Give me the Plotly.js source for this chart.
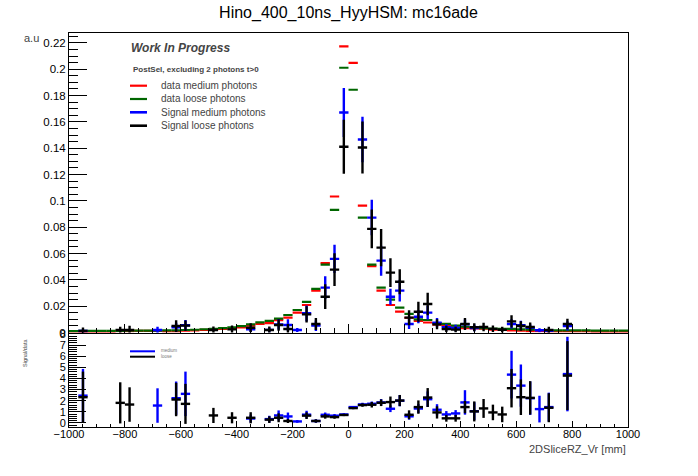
<!DOCTYPE html>
<html>
<head>
<meta charset="utf-8">
<script src="https://cdn.plot.ly/plotly-3.0.1.min.js"></script>
<style>
  html, body { margin: 0; padding: 0; background: #fff; }
  #plotDiv { width: 698px; height: 476px; }
</style>
</head>
<body>
<div id="plotDiv"></div>
<script>
// 60 bins from -1000 to 1000 mm (bin centres)
const binCenters = [
  -983.3, -950.0, -916.7, -883.3, -850.0, -816.7, -783.3, -750.0, -716.7, -683.3,
  -650.0, -616.7, -583.3, -550.0, -516.7, -483.3, -450.0, -416.7, -383.3, -350.0,
  -316.7, -283.3, -250.0, -216.7, -183.3, -150.0, -116.7, -83.3, -50.0, -16.7,
  16.7, 50.0, 83.3, 116.7, 150.0, 183.3, 216.7, 250.0, 283.3, 316.7,
  350.0, 383.3, 416.7, 450.0, 483.3, 516.7, 550.0, 583.3, 616.7, 650.0,
  683.3, 716.7, 750.0, 783.3, 816.7, 850.0, 883.3, 916.7, 950.0, 983.3,
];
const halfBin = 16.667;

// data medium photons (red)
const dataMedium = [
  0.0006, 0.0005, 0.0005, 0.0005, 0.0005, 0.0010, 0.0011, 0.0012, 0.0013, 0.0013,
  0.0008, 0.0008, 0.0015, 0.0016, 0.0020, 0.0023, 0.0027, 0.0031, 0.0039, 0.0052,
  0.0066, 0.0072, 0.0094, 0.0113, 0.0151, 0.0209, 0.0318, 0.0528, 0.1033, 0.2173,
  0.2048, 0.0964, 0.0505, 0.0318, 0.0209, 0.0158, 0.0112, 0.0088, 0.0076, 0.0060,
  0.0052, 0.0039, 0.0034, 0.0032, 0.0029, 0.0022, 0.0019, 0.0016, 0.0014, 0.0011,
  0.0011, 0.0009, 0.0009, 0.0009, 0.0009, 0.0008, 0.0004, 0.0004, 0.0004, 0.0004,
];
// data loose photons (green)
const dataLoose = [
  0.0010, 0.0012, 0.0013, 0.0013, 0.0013, 0.0013, 0.0014, 0.0014, 0.0014, 0.0015,
  0.0016, 0.0017, 0.0019, 0.0021, 0.0025, 0.0028, 0.0034, 0.0039, 0.0048, 0.0062,
  0.0077, 0.0089, 0.0106, 0.0133, 0.0171, 0.0232, 0.0331, 0.0516, 0.0932, 0.2011,
  0.1844, 0.0873, 0.0515, 0.0341, 0.0250, 0.0189, 0.0141, 0.0100, 0.0095, 0.0072,
  0.0065, 0.0052, 0.0044, 0.0039, 0.0034, 0.0029, 0.0027, 0.0027, 0.0024, 0.0022,
  0.0019, 0.0016, 0.0016, 0.0016, 0.0016, 0.0016, 0.0014, 0.0014, 0.0014, 0.0014,
];

// Signal medium photons (blue)
const sigMedium = [
  null, 0.0012, null, null, null, null, null, null, null, 0.0019,
  null, 0.0040, 0.0055, null, null, null, null, null, null, 0.0024,
  null, 0.0020, 0.0062, 0.0057, 0.0019, 0.0146, 0.0052, 0.0341, 0.0559, 0.1671,
  0.285, 0.1466, 0.0873, 0.0546, 0.0272, 0.0318, 0.0065, 0.0120, 0.0151, 0.0075,
  0.0040, 0.0034, 0.0063, 0.0034, null, null, null, 0.0065, 0.0055, 0.0035,
  0.0017, 0.0013, null, 0.0050, null, null, null, null, null, null,
];
const sigMediumErr = [
  null, 0.0012, null, null, null, null, null, null, null, 0.0025,
  null, 0.0035, 0.0040, null, null, null, null, null, null, 0.0020,
  null, 0.0018, 0.0040, 0.0044, 0.0015, 0.0060, 0.0040, 0.0086, 0.0107, 0.0186,
  0.020, 0.0173, 0.0135, 0.0114, 0.0061, 0.0082, 0.0038, 0.0050, 0.0053, 0.0035,
  0.0025, 0.0025, 0.0035, 0.0025, null, null, null, 0.0035, 0.0035, 0.0025,
  0.0015, 0.0012, null, 0.0035, null, null, null, null, null, null,
];

// Signal loose photons (black)
const sigLoose = [
  null, 0.0011, null, null, null, 0.0019, 0.0019, null, null, null,
  null, 0.0049, 0.0052, null, null, 0.0019, null, 0.0024, null, 0.0036,
  null, 0.0019, 0.0057, 0.0027, null, 0.0138, 0.0065, 0.0272, 0.0478, 0.1411,
  0.262, 0.1405, 0.0787, 0.0645, 0.0455, 0.0386, 0.0113, 0.0158, 0.0217, 0.0062,
  0.0027, 0.0022, 0.0065, 0.0040, 0.0042, 0.0028, 0.0021, 0.0085, 0.0050, 0.0042,
  null, 0.0019, null, 0.0065, null, null, null, null, null, null,
];
const sigLooseErr = [
  null, 0.0028, null, null, null, 0.0025, 0.0033, null, null, null,
  null, 0.0045, 0.0040, null, null, 0.0027, null, 0.0030, null, 0.0034,
  null, 0.0027, 0.0043, 0.0038, null, 0.0061, 0.0046, 0.0094, 0.0124, 0.0205,
  0.021, 0.0198, 0.0147, 0.0141, 0.0110, 0.0095, 0.0057, 0.0076, 0.0086, 0.0038,
  0.0025, 0.0022, 0.0046, 0.0030, 0.0032, 0.0025, 0.0022, 0.0046, 0.0036, 0.0034,
  null, 0.0024, null, 0.0040, null, null, null, null, null, null,
];

// Signal/data ratios
const ratioMedium = [
  null, 2.46, null, null, null, null, null, null, null, 1.57,
  null, 2.23, 2.62, null, null, null, null, null, null, 0.40,
  null, 0.35, 0.68, 0.59, 0.14, 0.75, 0.18, 0.74, 0.66, 0.77,
  1.43, 1.67, 1.73, 1.85, 1.28, 2.00, 0.60, 1.30, 2.14, 1.19,
  0.77, 0.86, 1.85, 1.06, null, null, null, 4.35, 3.36, 2.23,
  1.25, 1.43, null, 4.40, null, null, null, null, null, null,
];
const ratioMediumErr = [
  null, 2.40, null, null, null, null, null, null, null, 1.55,
  null, 1.50, 2.00, null, null, null, null, null, null, 0.35,
  null, 0.30, 0.45, 0.35, 0.12, 0.35, 0.15, 0.20, 0.15, 0.10,
  0.10, 0.15, 0.20, 0.30, 0.30, 0.50, 0.30, 0.40, 0.70, 0.50,
  0.30, 0.30, 1.10, 0.80, null, null, null, 2.14, 1.90, 1.50,
  1.20, 1.30, null, 3.35, null, null, null, null, null, null,
];
const ratioLoose = [
  null, 2.32, null, null, null, 1.81, 1.66, null, null, null,
  null, 2.11, 1.72, null, null, 0.68, null, 0.47, null, 0.47,
  null, 0.30, 0.47, 0.18, null, 0.66, 0.18, 0.59, 0.53, 0.72,
  1.34, 1.61, 1.64, 1.82, 1.88, 2.02, 0.74, 1.43, 2.29, 0.95,
  0.42, 0.42, 1.43, 1.04, 1.31, 0.95, 0.77, 3.13, 2.32, 2.26,
  null, 1.37, null, 4.26, null, null, null, null, null, null,
];
const ratioLooseErr = [
  null, 2.30, null, null, null, 1.85, 1.55, null, null, null,
  null, 1.50, 1.80, null, null, 0.68, null, 0.50, null, 0.50,
  null, 0.30, 0.40, 0.18, null, 0.30, 0.15, 0.20, 0.15, 0.10,
  0.10, 0.15, 0.25, 0.30, 0.50, 0.50, 0.40, 0.60, 0.85, 0.55,
  0.30, 0.30, 0.55, 0.90, 0.85, 0.70, 0.70, 1.73, 1.60, 1.50,
  null, 1.30, null, 3.10, null, null, null, null, null, null,
];

const legendLabels = [
  "data medium photons",
  "data loose photons",
  "Signal medium photons",
  "Signal loose photons",
];
const colRed = "#ff0000";
const colGreen = "#006600";
const colBlue = "#0000ff";
const colBlack = "#000000";

const FONT = "Liberation Sans, Arial, Helvetica, sans-serif";

// pixel -> paper helpers (plot area is x 69..628, y 33..427)
const L = 69, R = 628, T = 33, B = 427;
function px(x) { return (x - L) / (R - L); }
function py(y) { return (B - y) / (B - T); }

// ROOT style "E" histogram: bin-wide horizontal bar plus vertical error
function histTrace(yv, err, color, xa, ya, thick) {
  let tr = {
    x: binCenters,
    y: yv,
    type: "scatter",
    mode: "markers",
    marker: { size: 0.1, color: color, opacity: 0 },
    xaxis: xa,
    yaxis: ya,
    error_x: { type: "constant", value: halfBin, width: 0, thickness: thick, color: color },
    hoverinfo: "skip",
    showlegend: false,
  };
  if (err) {
    tr.error_y = { type: "data", array: err, width: 0, thickness: thick, color: color };
  }
  return tr;
}

let traces = [
  histTrace(dataMedium, null, colRed, "x2", "y2", 2.2),
  histTrace(dataLoose, null, colGreen, "x2", "y2", 2.2),
  histTrace(sigMedium, sigMediumErr, colBlue, "x2", "y2", 2.4),
  histTrace(sigLoose, sigLooseErr, colBlack, "x2", "y2", 2.4),
  histTrace(ratioMedium, ratioMediumErr, colBlue, "x", "y", 2.4),
  histTrace(ratioLoose, ratioLooseErr, colBlack, "x", "y", 2.4),
];

let tickFont = { family: FONT, size: 11.5, color: "#000" };

let annotations = [
  { text: "a.u", x: px(22), y: py(38), font: { family: FONT, size: 11 } },
  { text: "Signal/data", x: px(20), y: py(353), textangle: -90, font: { family: FONT, size: 5.5 } },
  { text: "2DSliceRZ_Vr [mm]", x: px(628), y: py(449), xanchor: "right", font: { family: FONT, size: 11 } },
  { text: "Work In Progress", x: px(129), y: py(48), xanchor: "left",
    font: { family: FONT, size: 12, weight: "bold", style: "italic" } },
  { text: "PostSel, excluding 2 photons t>0", x: px(131), y: py(69), xanchor: "left",
    font: { family: FONT, size: 8, weight: "bold" } },
  { text: "medium", x: px(159), y: py(350.5), xanchor: "left", font: { family: FONT, size: 4.5, color: "#777" } },
  { text: "loose", x: px(159), y: py(356.3), xanchor: "left", font: { family: FONT, size: 4.5, color: "#777" } },
];
let legendY = [85.7, 99, 112.3, 125.7];
let legendCol = [colRed, colGreen, colBlue, colBlack];
let shapes = [];
for (let i = 0; i < legendLabels.length; i++) {
  annotations.push({
    text: legendLabels[i], x: px(159), y: py(legendY[i]), xanchor: "left",
    font: { family: FONT, size: 10 },
  });
  shapes.push({
    type: "line", xref: "paper", yref: "paper",
    x0: px(130), x1: px(147), y0: py(legendY[i]), y1: py(legendY[i]),
    line: { color: legendCol[i], width: i < 2 ? 2.2 : 2.6 },
  });
}
shapes.push({ type: "line", xref: "paper", yref: "paper",
  x0: px(130), x1: px(155), y0: py(351.3), y1: py(351.3), line: { color: colBlue, width: 2 } });
shapes.push({ type: "line", xref: "paper", yref: "paper",
  x0: px(130), x1: px(155), y0: py(356.7), y1: py(356.7), line: { color: colBlack, width: 2 } });
annotations.forEach((a) => {
  a.xref = "paper";
  a.yref = "paper";
  a.showarrow = false;
  if (!a.yanchor) a.yanchor = "middle";
});

let axisBase = {
  showgrid: false,
  zeroline: false,
  showline: true,
  mirror: true,
  linecolor: "#000",
  linewidth: 1,
  ticks: "inside",
  tickcolor: "#000",
  tickwidth: 1,
  tickfont: tickFont,
};

let layout = {
  width: 698,
  height: 476,
  margin: { l: 69, r: 70, t: 33, b: 49 },
  paper_bgcolor: "#fff",
  plot_bgcolor: "#fff",
  showlegend: false,
  title: {
    text: "Hino_400_10ns_HyyHSM: mc16ade",
    font: { family: FONT, size: 16, color: "#000" },
    xref: "paper",
    x: 0.5,
    yref: "container",
    y: 1 - 12 / 476,
    yanchor: "middle",
  },
  xaxis: Object.assign({}, axisBase, {
    anchor: "y",
    range: [-1000, 1000],
    tick0: 0,
    dtick: 200,
    ticklen: 6,
    ticklabelstandoff: -3,
    tickfont: { family: FONT, size: 11, color: "#000" },
    minor: { dtick: 50, ticklen: 3, ticks: "inside", tickcolor: "#000" },
  }),
  xaxis2: Object.assign({}, axisBase, {
    anchor: "y2",
    matches: "x",
    range: [-1000, 1000],
    tick0: 0,
    dtick: 200,
    ticklen: 9,
    showticklabels: false,
    minor: { dtick: 50, ticklen: 5, ticks: "inside", tickcolor: "#000" },
  }),
  yaxis: Object.assign({}, axisBase, {
    domain: [0, 0.236],
    range: [-0.36, 8.0],
    tick0: 0,
    dtick: 1,
    ticklen: 17,
    tickfont: { family: FONT, size: 11, color: "#000" },
    minor: { dtick: 0.2, ticklen: 8, ticks: "inside", tickcolor: "#000" },
  }),
  yaxis2: Object.assign({}, axisBase, {
    domain: [0.2398, 1],
    range: [0, 0.2275],
    tick0: 0,
    dtick: 0.02,
    ticklen: 18,
    minor: { dtick: 0.005, ticklen: 9, ticks: "inside", tickcolor: "#000" },
  }),
  annotations: annotations,
  shapes: shapes,
};

Plotly.newPlot("plotDiv", traces, layout, { staticPlot: true });
</script>
</body>
</html>
